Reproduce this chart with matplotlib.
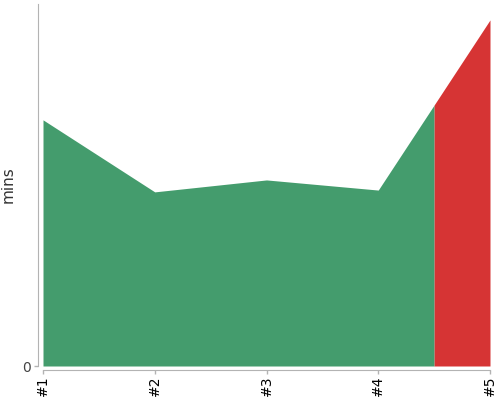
import matplotlib
matplotlib.use("Agg")
import matplotlib.pyplot as plt
import numpy as np

labels = ['#1', '#2', '#3', '#4', '#5']
mins = [68.0, 48.1, 51.4, 48.6, 95.6]
alert_from = 4  # index of the run that is over the limit

green = '#449c6d'
red = '#d63434'
grey = '#b3b3b3'

x = np.arange(1, len(labels) + 1, dtype=float)
y = np.array(mins)

# split half way between the last ok run and the bad one
xs = (x[alert_from - 1] + x[alert_from]) / 2
ys = np.interp(xs, x, y)

fig = plt.figure(figsize=(5, 4), dpi=100)
ax = fig.add_axes([0.086, 0.085, 0.894, 0.905])

xg = np.append(x[:alert_from], xs)
yg = np.append(y[:alert_from], ys)
xr = np.insert(x[alert_from:], 0, xs)
yr = np.insert(y[alert_from:], 0, ys)
ax.fill_between(xg, 0, yg, color=green, linewidth=0)
ax.fill_between(xr, 0, yr, color=red, linewidth=0)

ax.set_xlim(1, 5)
ax.set_ylim(0, 100)
ax.set_xticks(x)
ax.set_xticklabels(labels, fontsize=7)
ax.set_yticks([0])
ax.set_yticklabels(['0'], fontsize=9)
ax.set_ylabel('mins', fontsize=11, color='#333333', labelpad=5)

for s in ['top', 'right']:
    ax.spines[s].set_visible(False)
ax.spines['left'].set_position(('outward', 3.5))
ax.spines['bottom'].set_position(('outward', 3))
ax.spines['left'].set_color(grey)
ax.spines['bottom'].set_color(grey)
ax.tick_params(axis='both', colors=grey, length=3, width=1)
ax.tick_params(axis='x', labelcolor='black', pad=1, labelrotation=90)
ax.tick_params(axis='y', labelcolor='#444444', pad=2)

fig.savefig('out.png', dpi=100)
